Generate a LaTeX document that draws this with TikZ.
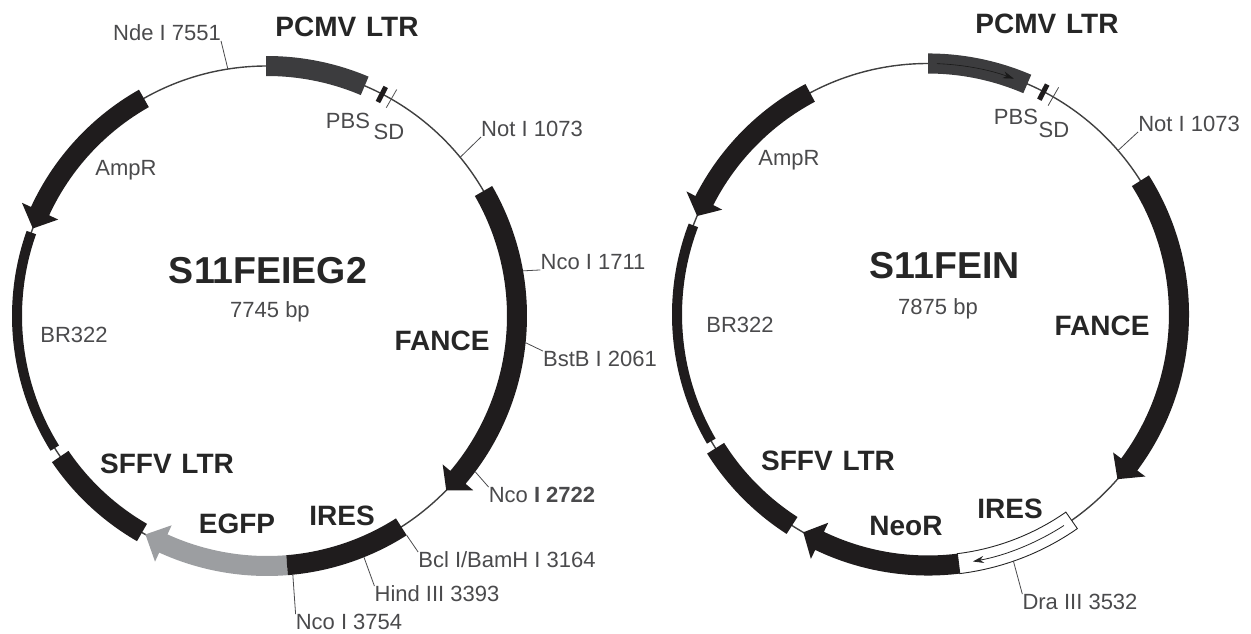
\documentclass[tikz,border=0pt]{standalone}
\usepackage{xcolor}
\usepackage{fontspec}
\setmainfont{Liberation Sans}
\usepackage{tikz}
\usetikzlibrary{arrows.meta}

\definecolor{barblack}{HTML}{1F1C1D}
\definecolor{ltrgray}{HTML}{3C3C3E}
\definecolor{egfpgray}{HTML}{9C9EA1}
\definecolor{labelgray}{HTML}{4A4A4C}

% bar on the ring: colour, start angle, end angle, half width
\newcommand{\ringbar}[4]{\fill[#1] (#2:{250-#4}) arc[start angle=#2, end angle=#3, radius={250-#4}] -- (#3:{250+#4}) arc[start angle=#3, end angle=#2, radius={250+#4}] -- cycle;}
% arrow on the ring: colour, start angle, head base angle, tip angle
\newcommand{\ringarrow}[4]{\fill[#1] (#2:240) arc[start angle=#2, end angle=#3, radius=240] -- (#3:230) -- (#4:250) -- (#3:270) -- (#3:260) arc[start angle=#3, end angle=#2, radius=260] -- cycle;}

\begin{document}
\begin{tikzpicture}[
    x=1pt, y=1pt,
    site/.style={font=\fontsize{22}{26}\selectfont, text=labelgray, inner sep=0pt, text height=15.5pt, text depth=0pt},
    gene/.style={font=\fontsize{28}{32}\selectfont\bfseries, text=black!85, inner sep=0pt, text height=20pt, text depth=0pt},
    title/.style={font=\fontsize{37.5}{42}\selectfont\bfseries, text=black!85, inner sep=0pt, text height=27pt, text depth=0pt},
    backbone/.style={draw=black!75, line width=1.4pt},
    cut/.style={draw=labelgray, line width=0.8pt},
    pbsmark/.style={draw=barblack, line width=5pt},
    sdmark/.style={draw=black!70, line width=0.8pt}
]
\useasboundingbox (0,0) rectangle (1251,633);

% Labels of the first plasmid
\node[title] (nameA) at (268,363) {S11FEIEG2};
\node[site] (sizeA) at (270,323) {7745 bp};
\node[gene] (pcmvA) at (347,606) {PCMV\ \kern2pt LTR};
\node[site] (pbsA) at (348,512) {PBS};
\node[site] (sdA) at (389,501) {SD};
\node[site] (ndeA) at (167,600) {Nde I 7551};
\node[site] (notA) at (532,504) {Not I 1073};
\node[site] (ncoaA) at (593,371) {Nco I 1711};
\node[site] (bstbA) at (600,274) {BstB I 2061};
\node[site] (ncobA) at (542,138) {Nco {\bfseries I 2722}};
\node[site] (bclA) at (507,73) {Bcl I/BamH I 3164};
\node[site] (hindA) at (437,39) {Hind III 3393};
\node[site] (ncocA) at (349,11) {Nco I 3754};
\node[site] (ampA) at (126,465) {AmpR};
\node[site] (brA) at (74,298) {BR322};
\node[gene] (fanceA) at (442,293) {FANCE};
\node[gene] (sffvA) at (167,170) {SFFV\ \kern2pt LTR};
\node[gene] (egfpA) at (237,110) {EGFP};
\node[gene] (iresA) at (342,118) {IRES};

% First plasmid
\begin{scope}[shift={(267,317)}]
\draw[backbone] (0,0) circle[radius=250];
\ringbar{ltrgray}{90.2}{67}{10}
\draw[pbsmark] (62.6:241) -- (62.6:258);
\draw[sdmark] (60.2:240) -- (60.2:261);
\ringarrow{barblack}{30}{-40.2}{-44.2}
\ringarrow{barblack}{119.5}{155.2}{159.5}
\ringbar{barblack}{160.5}{211.9}{5}
\ringbar{barblack}{214.2}{240}{10}
\ringarrow{egfpgray}{274.6}{245.5}{240.9}
\ringbar{barblack}{-85.4}{-57.5}{10}
\coordinate (ndeAp) at (99:250);
\coordinate (notAp) at (39.4:250);
\coordinate (ncoaAp) at (10:260);
\coordinate (bstbAp) at (-5.9:260);
\coordinate (ncobAp) at (-36.8:260);
\coordinate (bclAp) at (-57.5:260);
\coordinate (hindAp) at (-68.1:260);
\coordinate (ncocAp) at (-84.3:260);
\end{scope}

\draw[cut] (ndeAp) -- (ndeA.south east);
\draw[cut] (notAp) -- (notA.south west);
\draw[cut] (ncoaAp) -- (ncoaA.south west);
\draw[cut] (bstbAp) -- (bstbA.north west);
\draw[cut] (ncobAp) -- (ncobA.north west);
\draw[cut] (bclAp) -- (bclA.north west);
\draw[cut] (hindAp) -- (hindA.north west);
\draw[cut] (ncocAp) -- (ncocA.north west);

% Labels of the second plasmid
\node[title] (nameB) at (945,368) {S11FEIN};
\node[site] (sizeB) at (938,326) {7875 bp};
\node[gene] (pcmvB) at (1047,609) {PCMV\ \kern2pt LTR};
\node[site] (pbsB) at (1016,516) {PBS};
\node[site] (sdB) at (1054,503) {SD};
\node[site] (notB) at (1189,509) {Not I 1073};
\node[site] (draB) at (1080,31) {Dra III 3532};
\node[site] (ampB) at (789,475) {AmpR};
\node[site] (brB) at (740,308) {BR322};
\node[gene] (fanceB) at (1102,308) {FANCE};
\node[gene] (sffvB) at (828,173) {SFFV\ \kern2pt LTR};
\node[gene] (neoB) at (906,108) {NeoR};
\node[gene] (iresB) at (1010,125) {IRES};

% Second plasmid
\begin{scope}[shift={(928,318.5)}, scale=1.004]
\draw[backbone] (0,0) circle[radius=250];
\ringbar{ltrgray}{90}{66.7}{10}
\draw[-{Stealth[length=11pt,width=7pt]}, draw=black!90, line width=0.6pt] (88:250) arc[start angle=88, end angle=70, radius=250];
\draw[pbsmark] (62.6:241) -- (62.6:258);
\draw[sdmark] (60.1:240) -- (60.1:261);
\ringarrow{barblack}{32.2}{-36.7}{-41}
\ringarrow{barblack}{118}{153}{156.9}
\ringbar{barblack}{159.2}{210.3}{5}
\ringbar{barblack}{212.2}{237.2}{10}
\ringbar{white, draw=black!85, line width=0.9pt}{-83}{-55.1}{10}
\draw[-{Stealth[length=11pt,width=7pt]}, draw=black!85, line width=0.8pt] (-57.2:250) arc[start angle=-57.2, end angle=-79.7, radius=250];
\ringarrow{barblack}{277}{244.4}{240.2}
\coordinate (notBp) at (40.8:250);
\coordinate (draBp) at (-70.9:260);
\end{scope}

\draw[cut] (notBp) -- (notB.south west);
\draw[cut] (draBp) -- (draB.north west);
\end{tikzpicture}
\end{document}
